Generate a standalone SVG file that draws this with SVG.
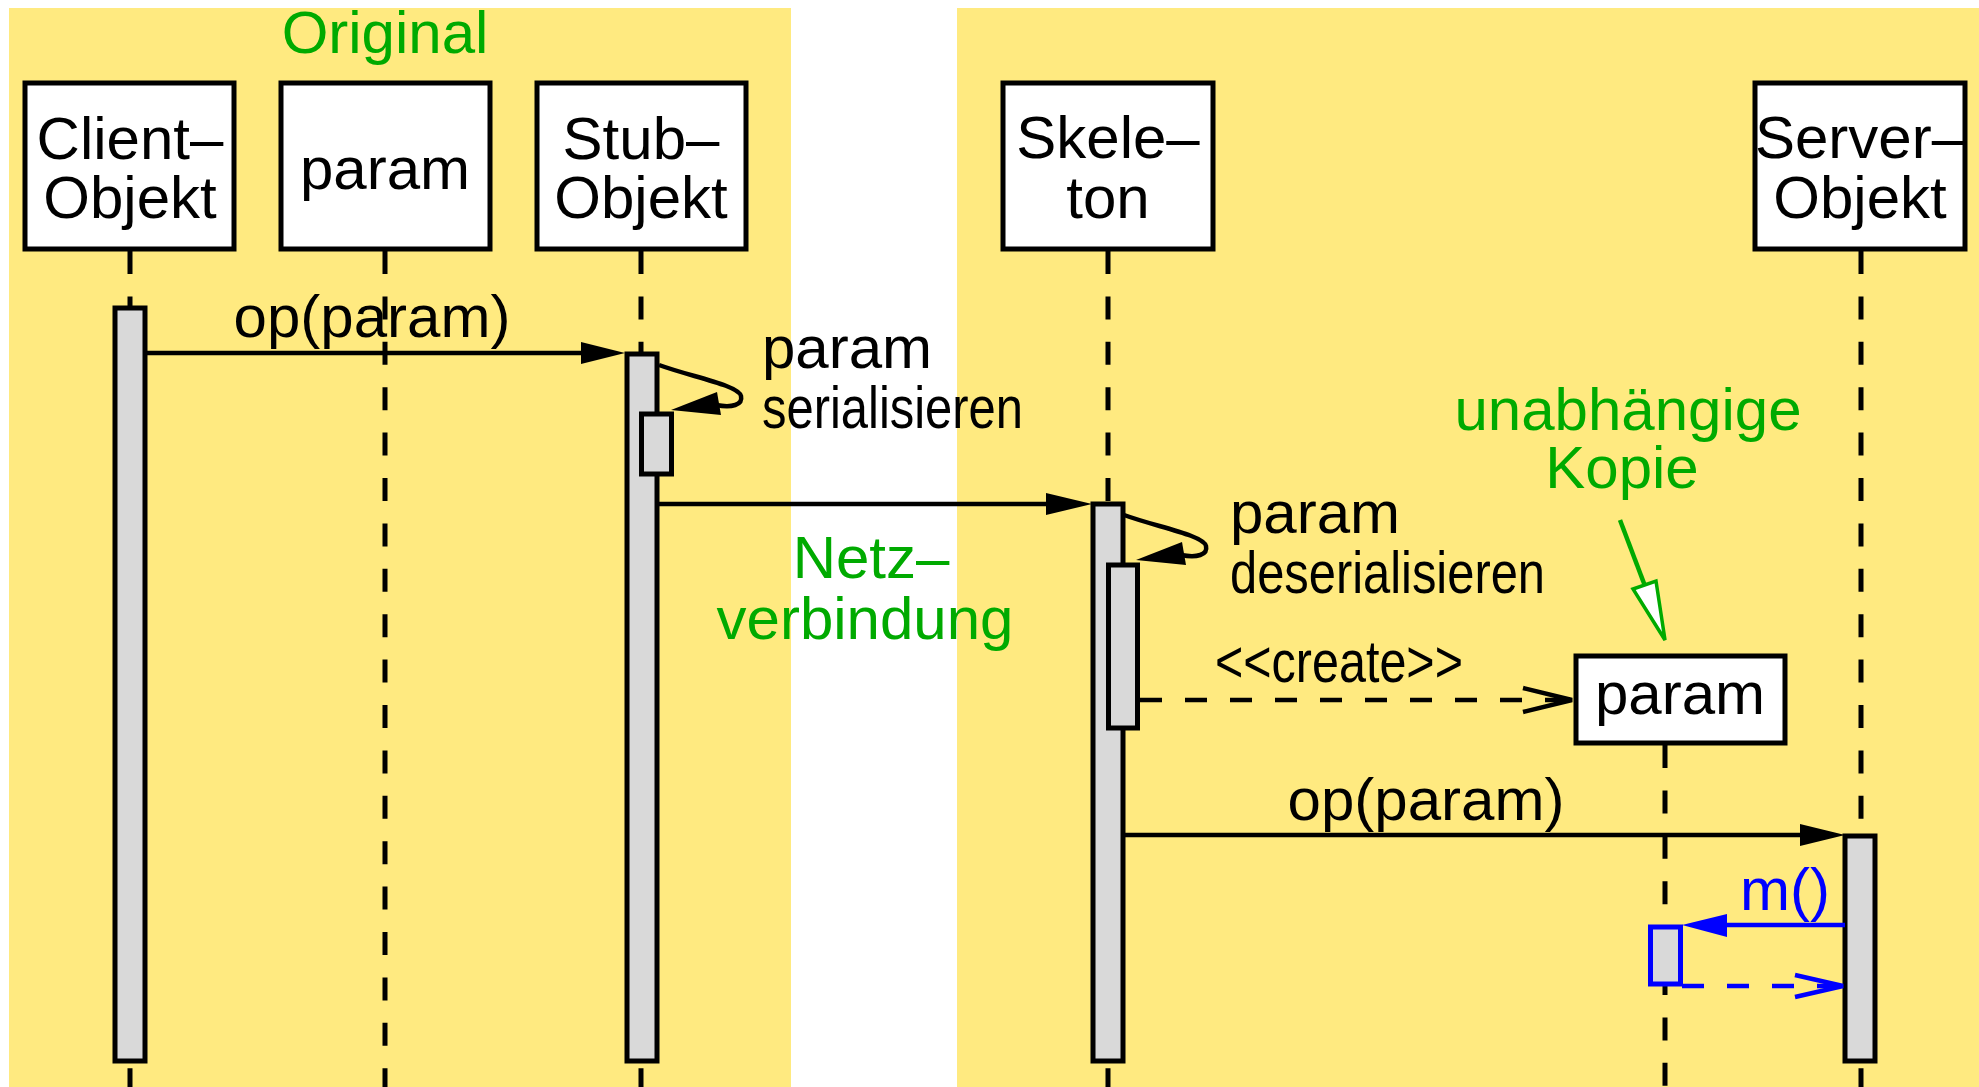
<svg xmlns="http://www.w3.org/2000/svg" width="1979" height="1087" viewBox="0 0 1979 1087">
<style>
text{font-family:"Liberation Sans",Arial,sans-serif;font-size:60px;fill:#000}
.g{fill:#00AA00}
.b{fill:#0000FF}
.mid{text-anchor:middle}
.box{fill:#fff;stroke:#000;stroke-width:5}
.act{fill:#D9D9D9;stroke:#000;stroke-width:5}
.life{stroke:#000;stroke-width:5;stroke-dasharray:23 22.4;fill:none}
.msg{stroke:#000;stroke-width:4.5;fill:none}
.dash{stroke-dasharray:22 23}
</style>
<rect x="0" y="0" width="1979" height="1087" fill="#fff"/>
<rect x="9" y="8" width="782" height="1079" fill="#FFEA80"/>
<rect x="957" y="8" width="1022" height="1079" fill="#FFEA80"/>
<text class="g mid" x="385" y="53">Original</text>

<g id="lifelines">
<line class="life" x1="130" y1="251" x2="130" y2="1087"/>
<line class="life" x1="385" y1="251" x2="385" y2="1087"/>
<line class="life" x1="641" y1="251" x2="641" y2="1087"/>
<line class="life" x1="1108" y1="251" x2="1108" y2="1087"/>
<line class="life" x1="1861" y1="251" x2="1861" y2="1087"/>
<line class="life" x1="1665" y1="745" x2="1665" y2="1087"/>
</g>

<g id="client">
<rect class="box" x="25" y="83" width="209" height="166"/>
<text class="mid" x="130" y="159">Client–</text>
<text class="mid" x="130" y="218">Objekt</text>
<rect class="act" x="115" y="308" width="30" height="753"/>
</g>
<g id="param-original">
<rect class="box" x="281" y="83" width="209" height="166"/>
<text class="mid" x="385" y="189">param</text>
</g>
<g id="stub">
<rect class="box" x="537" y="83" width="209" height="166"/>
<text class="mid" x="641" y="159">Stub–</text>
<text class="mid" x="641" y="218">Objekt</text>
<rect class="act" x="627" y="354" width="30" height="707"/>
<rect class="act" x="641.5" y="414" width="30" height="60"/>
</g>
<g id="skeleton">
<rect class="box" x="1003" y="83" width="210" height="166"/>
<text class="mid" x="1108" y="158">Skele–</text>
<text class="mid" x="1108" y="218">ton</text>
<rect class="act" x="1093" y="504" width="30" height="557"/>
<rect class="act" x="1108.5" y="565" width="29" height="163"/>
</g>
<g id="server">
<rect class="box" x="1755" y="83" width="210" height="166"/>
<text class="mid" x="1860" y="158">Server–</text>
<text class="mid" x="1860" y="218">Objekt</text>
<rect class="act" x="1845" y="836" width="30" height="225"/>
</g>
<g id="param-copy">
<rect class="box" x="1576" y="656" width="209" height="87"/>
<text class="mid" x="1680" y="714">param</text>
<rect x="1650.5" y="927" width="30" height="57" fill="#D9D9D9" stroke="#0000FF" stroke-width="5"/>
</g>

<g id="connectors">
<line class="msg" x1="147" y1="353" x2="584" y2="353"/>
<polygon points="625,353 581,342 581,364" fill="#000"/>
<text class="mid" x="372" y="337">op(param)</text>

<path class="msg" d="M659,365 C692,377 738,385 741,396 C743,405 732,408 716,405"/>
<polygon points="671,410 717,392 721,415" fill="#000"/>
<text x="762" y="368">param</text>
<text x="762" y="428" font-size="56" textLength="261" lengthAdjust="spacingAndGlyphs">serialisieren</text>

<line class="msg" x1="659" y1="504" x2="1050" y2="504"/>
<polygon points="1092,504 1046,493 1046,515" fill="#000"/>
<text class="g mid" x="871" y="578">Netz–</text>
<text class="g mid" x="865" y="639">verbindung</text>

<path class="msg" d="M1124,515 C1157,527 1203,535 1206,546 C1208,555 1197,558 1181,555"/>
<polygon points="1136,560 1182,542 1186,565" fill="#000"/>
<text x="1230" y="533">param</text>
<text x="1230" y="593" font-size="56" textLength="315" lengthAdjust="spacingAndGlyphs">deserialisieren</text>

<line class="msg dash" x1="1140" y1="700" x2="1570" y2="700"/>
<polyline class="msg" points="1523,688 1572,700 1523,712"/>
<text x="1215" y="682" font-size="55" textLength="248" lengthAdjust="spacingAndGlyphs">&lt;&lt;create&gt;&gt;</text>

<text class="g mid" x="1628" y="430">unabhängige</text>
<text class="g mid" x="1622" y="488">Kopie</text>
<line x1="1620" y1="520" x2="1645" y2="586" stroke="#00AA00" stroke-width="4.5"/>
<polygon points="1665,640 1633,589 1656,581" fill="#fff" stroke="#00AA00" stroke-width="3.5"/>

<line class="msg" x1="1123" y1="835" x2="1805" y2="835"/>
<polygon points="1845,835 1800,824 1800,846" fill="#000"/>
<text class="mid" x="1426" y="820">op(param)</text>

<line x1="1845" y1="925" x2="1720" y2="925" stroke="#0000FF" stroke-width="4.5"/>
<polygon points="1682,925 1727,914 1727,937" fill="#0000FF"/>
<text class="b mid" x="1785" y="910">m()</text>
<line x1="1682" y1="986" x2="1840" y2="986" stroke="#0000FF" stroke-width="4.5" stroke-dasharray="22 23"/>
<polyline points="1795,975 1843,986 1795,997" fill="none" stroke="#0000FF" stroke-width="4.5"/>
</g>
</svg>
